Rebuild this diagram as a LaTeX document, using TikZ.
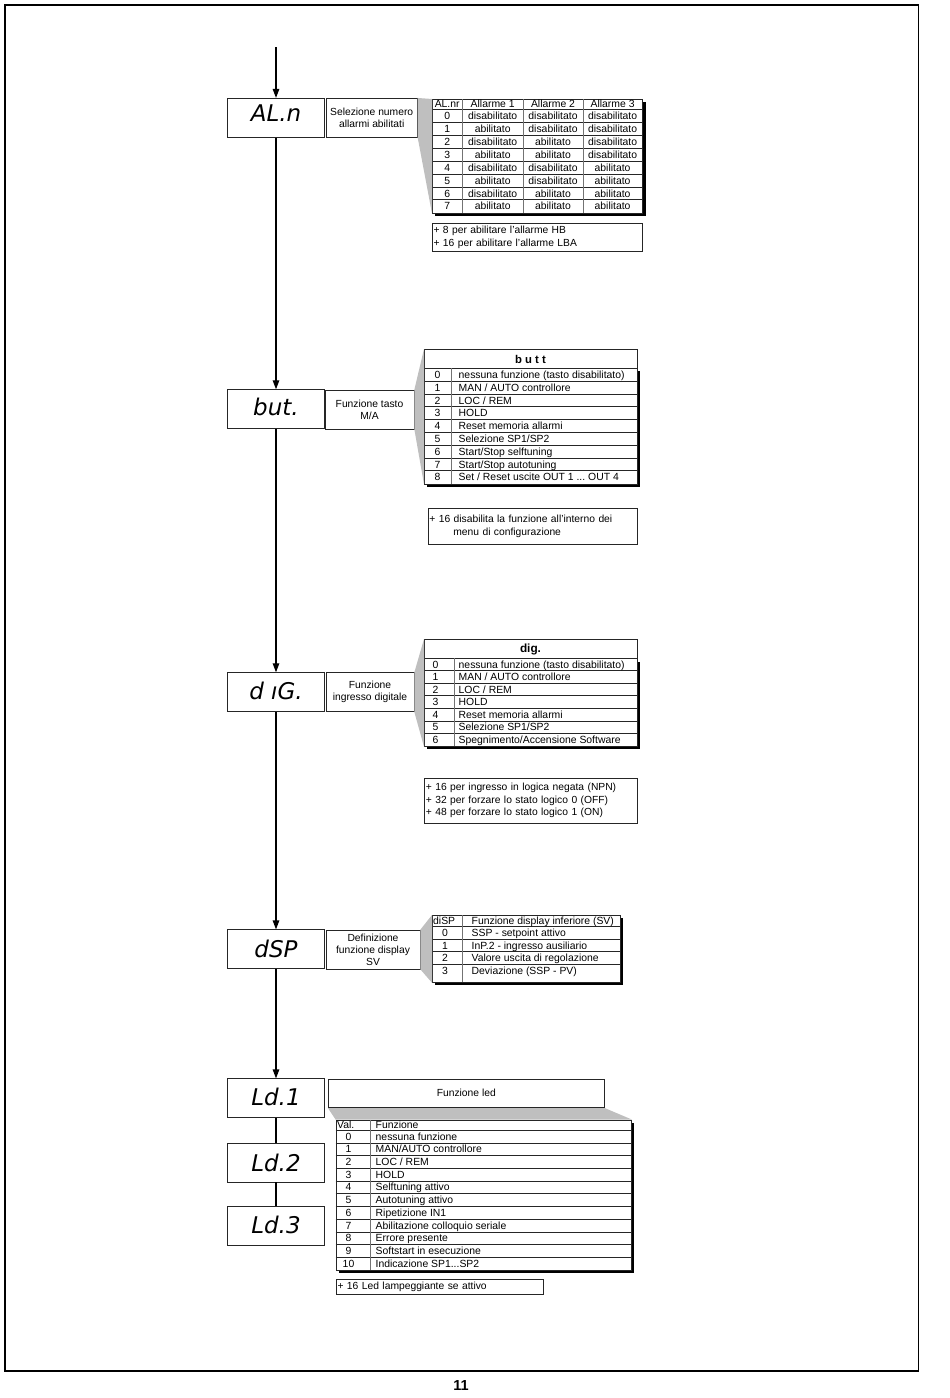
\documentclass[tikz,border=0pt]{standalone}
\usepackage{fontspec}
\setmainfont{Liberation Sans}
\newfontfamily\segfont{DejaVu Sans}
\usetikzlibrary{arrows.meta}
\newcommand\tabfont{\fontsize{10.4}{12}\selectfont}
\newcommand\descfont{\fontsize{10.3}{12}\selectfont}
\newcommand\notefont{\fontsize{10.3}{12.4}\selectfont}
\newcommand\tdots{...}
\begin{document}
\begin{tikzpicture}[x=1pt,y=-1pt,
  disp/.style={draw=black!85,line width=0.8pt,minimum width=97pt,minimum height=39pt,inner sep=0pt},
  seg/.style={anchor=base,inner sep=0pt,font=\segfont\itshape\fontsize{23}{23}\selectfont},
  desc/.style={draw=black!85,line width=0.7pt,align=center,inner sep=0pt,font=\descfont},
  note/.style={draw=black!85,line width=0.7pt,align=left,anchor=north west,inner xsep=1.5pt,inner ysep=0pt,font=\notefont},
  tbl/.style={draw=black!85,line width=0.8pt,fill=white,anchor=north west,inner sep=0pt},
  shadowbox/.style={fill=black},
  wedge/.style={fill=black!25},
  hline/.style={black!85,line width=0.7pt},
  vline/.style={black!55,line width=0.8pt},
  cell/.style={anchor=base,inner sep=0pt,font=\tabfont},
  cellL/.style={cell,anchor=base west},
  conn/.style={line width=1.3pt,-{Triangle[length=9pt,width=6.5pt]}},
  link/.style={line width=1.3pt}
]
\useasboundingbox (0,0) rectangle (950,1398);
% page frame and number
\draw[line width=1.6pt] (5,5) rectangle (918.5,1371);
\node[font=\bfseries\fontsize{14.5}{14.5}\selectfont,inner sep=0pt] (pnum) at (461,1385) {11};

% ---------- display boxes ----------
\node[disp] (aln) at (276,117.8) {};
\node[seg] (alnt) at (276,121.5) {AL.n};
\node[disp] (but) at (276,409.2) {};
\node[seg] (butt) at (276,415.5) {but.};
\node[disp] (dig) at (276,692.2) {};
\node[seg] (digt) at (276,699) {d ıG.};
\node[disp] (dsp) at (276,949.3) {};
\node[seg] (dspt) at (276,957.5) {dSP};
\node[disp] (ld1) at (276,1098.3) {};
\node[seg] (ld1t) at (276,1105.5) {Ld.1};
\node[disp] (ld2) at (276,1162.5) {};
\node[seg] (ld2t) at (276,1171) {Ld.2};
\node[disp] (ld3) at (276,1226.2) {};
\node[seg] (ld3t) at (276,1233.5) {Ld.3};

% ---------- connectors ----------
\coordinate (entry) at (276,47.3);
\draw[conn] (entry) -- (aln.north);
\draw[conn] (aln.south) -- (but.north);
\draw[conn] (but.south) -- (dig.north);
\draw[conn] (dig.south) -- (dsp.north);
\draw[conn] (dsp.south) -- (ld1.north);
\draw[link] (ld1.south) -- (ld2.north);
\draw[link] (ld2.south) -- (ld3.north);

% ---------- description boxes ----------
\node[desc,minimum width=91.3pt,minimum height=39pt] (alnd) at (371.7,117.8) {Selezione numero\\allarmi abilitati};
\node[desc,minimum width=89pt,minimum height=39pt] (butd) at (369.5,409.5) {Funzione tasto\\M/A};
\node[desc,minimum width=88pt,minimum height=39pt] (digd) at (370,692.2) {Funzione\\ingresso digitale};
\node[desc,minimum width=94pt,minimum height=39pt] (dspd) at (373,949.5) {Definizione\\funzione display\\SV};
\node[desc,minimum width=276pt,minimum height=28.7pt] (ledd) at (466.3,1093.3) {Funzione led};

% ---------- table 1: AL.nr ----------
\fill[shadowbox] (435,102) rectangle (645.5,216.2);
\node[tbl,minimum width=210.3pt,minimum height=113.7pt] (t1) at (432,99) {};
\draw[hline] (432,109.5) -- (642.3,109.5);
\foreach \k in {1,...,7} \draw[hline] (432,{109.5+12.9*\k}) -- (642.3,{109.5+12.9*\k});
\foreach \x in {462.5,523,583} \draw[vline] (\x,99) -- (\x,212.7);
\node[cell] (t1h1) at (447.2,107.8) {AL.nr};
\node[cell] (t1h2) at (492.7,107.8) {Allarme 1};
\node[cell] (t1h3) at (553,107.8) {Allarme 2};
\node[cell] (t1h4) at (612.6,107.8) {Allarme 3};
\foreach \a/\b/\c [count=\i from 0] in {disabilitato/disabilitato/disabilitato,abilitato/disabilitato/disabilitato,disabilitato/abilitato/disabilitato,abilitato/abilitato/disabilitato,disabilitato/disabilitato/abilitato,abilitato/disabilitato/abilitato,disabilitato/abilitato/abilitato,abilitato/abilitato/abilitato}{
  \node[cell] (t1n\i) at (447.2,{109.5+12.9*\i+10.1}) {\i};
  \node[cell] (t1a\i) at (492.7,{109.5+12.9*\i+10.1}) {\a};
  \node[cell] (t1b\i) at (553,{109.5+12.9*\i+10.1}) {\b};
  \node[cell] (t1c\i) at (612.6,{109.5+12.9*\i+10.1}) {\c};
}
\fill[wedge] (alnd.north east) -- (t1.north west) -- (t1.south west) -- (alnd.south east) -- cycle;
\node[note,text width=207.6pt,minimum height=28.3pt] (n1) at (431.7,222.7) {+ 8 per abilitare l'allarme HB\\+ 16 per abilitare l'allarme LBA};

% ---------- table 2: butt ----------
\fill[shadowbox] (427,371) rectangle (640,486.7);
\node[tbl,minimum width=213pt,minimum height=134.5pt] (t2) at (424,349) {};
\draw[hline] (424,368.3) -- (637,368.3);
\foreach \k in {1,...,8} \draw[hline] (424,{368.3+12.8*\k}) -- (637,{368.3+12.8*\k});
\draw[vline] (451,368.3) -- (451,483.5);
\node[cell,font=\bfseries\fontsize{11.3}{12}\selectfont] (t2h) at (530.5,363) {b u t t};
\foreach \t [count=\i from 0] in {{nessuna funzione (tasto disabilitato)},{MAN / AUTO controllore},{LOC / REM},{HOLD},{Reset memoria allarmi},{Selezione SP1/SP2},{Start/Stop selftuning},{Start/Stop autotuning},{Set / Reset uscite OUT 1 \tdots\ OUT 4}}{
  \node[cell] (t2n\i) at (437.5,{368.3+12.8*\i+10.1}) {\i};
  \node[cellL] (t2t\i) at (458.5,{368.3+12.8*\i+10.1}) {\t};
}
\fill[wedge] (butd.north east) -- (t2.north west) -- (t2.south west) -- (butd.south east) -- cycle;
\node[note,text width=206.5pt,minimum height=36pt] (n2) at (427.5,508) {+ 16 disabilita la funzione all'interno dei\\\hspace*{24pt}menu di configurazione};

% ---------- table 3: dig. ----------
\fill[shadowbox] (427,662) rectangle (640,749);
\node[tbl,minimum width=213pt,minimum height=107pt] (t3) at (424,639) {};
\draw[hline] (424,658) -- (637,658);
\foreach \k in {1,...,6} \draw[hline] (424,{658+12.57*\k}) -- (637,{658+12.57*\k});
\draw[vline] (454,658) -- (454,746);
\node[cell,font=\bfseries\fontsize{11.8}{12}\selectfont] (t3h) at (530.5,652.5) {dig.};
\foreach \t [count=\i from 0] in {{nessuna funzione (tasto disabilitato)},{MAN / AUTO controllore},{LOC / REM},{HOLD},{Reset memoria allarmi},{Selezione SP1/SP2},{Spegnimento/Accensione Software}}{
  \node[cell] (t3n\i) at (435.5,{658+12.57*\i+10}) {\i};
  \node[cellL] (t3t\i) at (458.5,{658+12.57*\i+10}) {\t};
}
\fill[wedge] (digd.north east) -- (t3.north west) -- (t3.south west) -- (digd.south east) -- cycle;
\node[note,text width=210pt,minimum height=45.3pt] (n3) at (424,777.7) {+ 16 per ingresso in logica negata (NPN)\\+ 32 per forzare lo stato logico 0 (OFF)\\+ 48 per forzare lo stato logico 1 (ON)};

% ---------- table 4: diSP ----------
\fill[shadowbox] (435,918) rectangle (623,985);
\node[tbl,minimum width=188pt,minimum height=67pt] (t4) at (432,915) {};
\foreach \yy in {926.5,939,951.5,964} \draw[hline] (432,\yy) -- (620,\yy);
\draw[vline] (462,915) -- (462,982);
\node[cellL] (t4h1) at (433,924.2) {diSP};
\node[cellL] (t4h2) at (471.5,924.2) {Funzione display inferiore (SV)};
\foreach \t [count=\i from 0] in {{SSP - setpoint attivo},{InP.2 - ingresso ausiliario},{Valore uscita di regolazione},{Deviazione (SSP - PV)}}{
  \node[cell] (t4n\i) at (445,{926.5+12.5*\i+10}) {\i};
  \node[cellL] (t4t\i) at (471.5,{926.5+12.5*\i+10}) {\t};
}
\fill[wedge] (dspd.north east) -- (t4.north west) -- (t4.south west) -- (dspd.south east) -- cycle;

% ---------- table 5: Val. ----------
\fill[shadowbox] (338.5,1122.5) rectangle (634,1273);
\node[tbl,minimum width=295.5pt,minimum height=150.5pt] (t5) at (335.5,1119.5) {};
\draw[hline] (335.5,1130.2) -- (631,1130.2);
\foreach \k in {1,...,10} \draw[hline] (335.5,{1130.2+12.71*\k}) -- (631,{1130.2+12.71*\k});
\draw[vline] (370,1119.5) -- (370,1270);
\node[cellL] (t5h1) at (337,1128.6) {Val.};
\node[cellL] (t5h2) at (375.5,1128.6) {Funzione};
\foreach \t [count=\i from 0] in {{nessuna funzione},{MAN/AUTO controllore},{LOC / REM},{HOLD},{Selftuning attivo},{Autotuning attivo},{Ripetizione IN1},{Abilitazione colloquio seriale},{Errore presente},{Softstart in esecuzione},{Indicazione SP1\tdots SP2}}{
  \node[cell] (t5n\i) at (348.5,{1130.2+12.71*\i+9.9}) {\i};
  \node[cellL] (t5t\i) at (375.5,{1130.2+12.71*\i+9.9}) {\t};
}
\fill[wedge] (ledd.south west) -- (ledd.south east) -- (t5.north east) -- (t5.north west) -- cycle;
\node[note,text width=204.6pt,minimum height=14.7pt] (n4) at (335.7,1279.3) {+ 16 Led lampeggiante se attivo};
\end{tikzpicture}
\end{document}
